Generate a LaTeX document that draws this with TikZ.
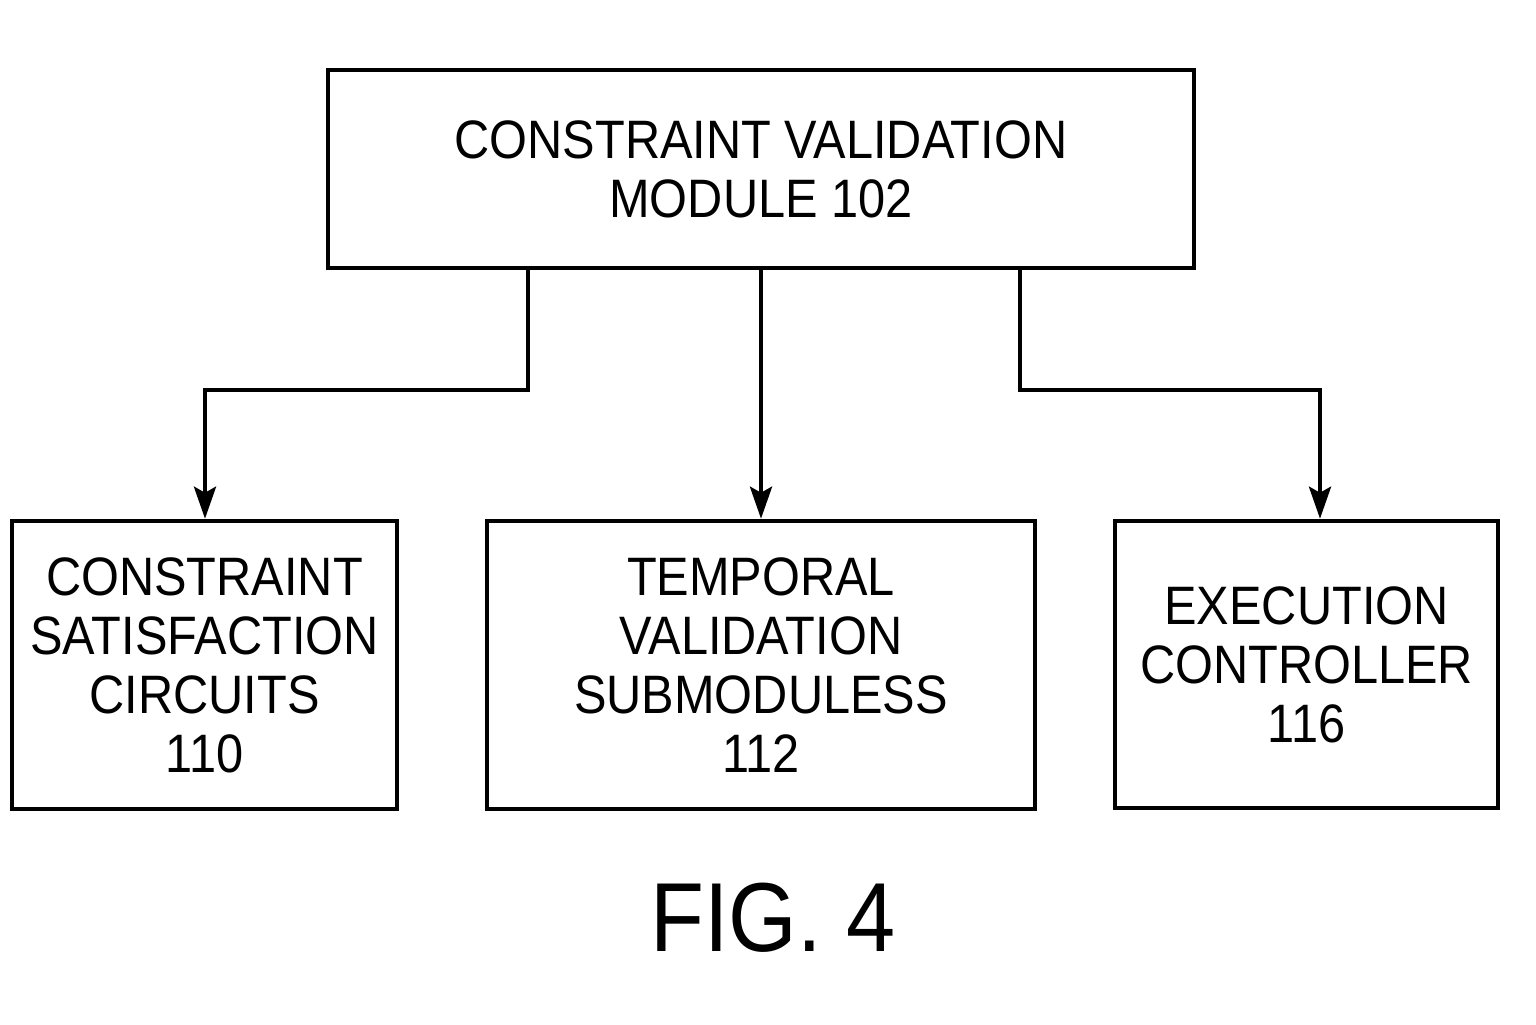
\documentclass[tikz,border=0pt]{standalone}
\usepackage{fontspec}
\setmainfont{Liberation Sans}[FakeStretch=0.9]
\usetikzlibrary{arrows.meta,positioning}

\tikzset{
    modbox/.style={draw, line width=1.3pt, align=center, inner sep=0pt,
        font=\fontsize{15.4}{16.8}\selectfont},
    link/.style={line width=1.2pt, -{Stealth[length=0.32cm,width=0.22cm,inset=0.06cm]}}
}

\begin{document}
\begin{tikzpicture}
    \useasboundingbox (0,0) rectangle (15.36,10.24);
    % Top module
    \node[modbox, minimum width=8.66cm, minimum height=1.98cm] (cvm)
        at (7.61,8.55) {CONSTRAINT VALIDATION\\MODULE 102};
    % Lower blocks
    \node[modbox, minimum width=3.85cm, minimum height=2.88cm] (csc)
        at (2.045,3.59) {CONSTRAINT\\SATISFACTION\\CIRCUITS\\110};
    \node[modbox, minimum width=5.48cm, minimum height=2.88cm] (tvs)
        at (7.61,3.59) {TEMPORAL\\VALIDATION\\SUBMODULESS\\112};
    \node[modbox, minimum width=3.83cm, minimum height=2.87cm] (exc)
        at (13.065,3.595) {EXECUTION\\CONTROLLER\\116};
    % Branch points
    \coordinate (l1) at (5.28,7.56);
    \coordinate (l2) at (2.05,6.34);
    \coordinate (r1) at (10.20,7.56);
    \coordinate (r2) at (13.20,6.34);
    % Connectors
    \draw[link] (l1) |- (l2) -- (l2 |- csc.north);
    \draw[link] (cvm.south) -- (tvs.north);
    \draw[link] (r1) |- (r2) -- (r2 |- exc.north);
    % Caption
    \node[font=\fontsize{27.9}{30}\selectfont] (fig) at (7.73,1.06) {FIG. 4};
\end{tikzpicture}
\end{document}
